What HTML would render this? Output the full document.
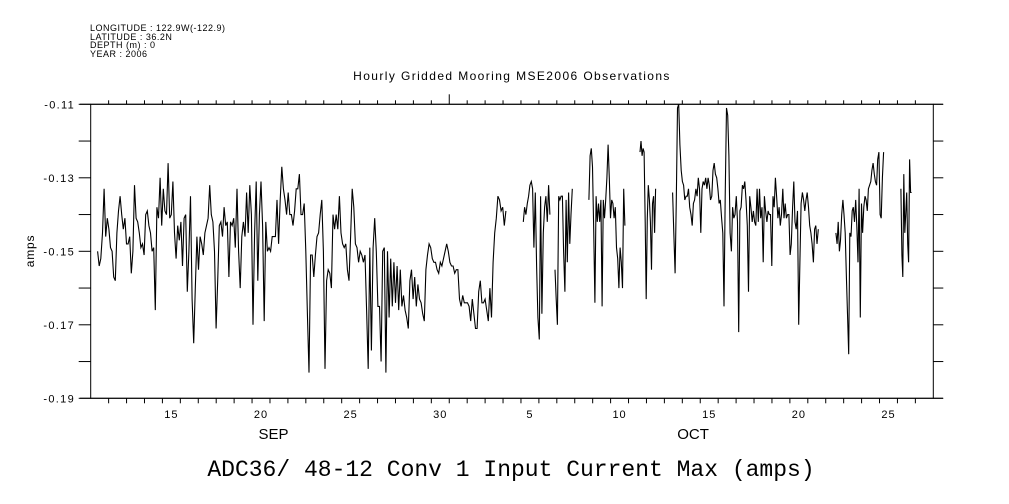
<!DOCTYPE html>
<html><head><meta charset="utf-8"><style>
html,body{margin:0;padding:0;background:#fff;}
svg{display:block;}
text{font-family:"Liberation Sans","DejaVu Sans",sans-serif;fill:#000;}
</style></head><body>
<svg id="chart" width="1009" height="504" viewBox="0 0 1009 504" xmlns="http://www.w3.org/2000/svg">
<g font-size="9" letter-spacing="0.5">
<text x="90" y="31">LONGITUDE : 122.9W(-122.9)</text>
<text x="90" y="40">LATITUDE : 36.2N</text>
<text x="90" y="48">DEPTH (m) : 0</text>
<text x="90" y="57">YEAR : 2006</text>
</g>
<text x="512" y="80" font-size="12" letter-spacing="1.4" text-anchor="middle">Hourly Gridded Mooring MSE2006 Observations</text>
<text x="511" y="476" font-size="23" text-anchor="middle" style="font-family:'Liberation Mono',monospace">ADC36/ 48-12 Conv 1 Input Current Max (amps)</text>
<text transform="translate(34,251) rotate(-90)" font-size="12" letter-spacing="0.8" text-anchor="middle">amps</text>
<g id="axes"></g>
<g id="series"></g>
</svg>
<script>
const yTicks = [-0.11,-0.12,-0.13,-0.14,-0.15,-0.16,-0.17,-0.18,-0.19];
const yTickLabels = ['-0.11','','-0.13','','-0.15','','-0.17','','-0.19'];
const dayLabels = [15,20,25,30,5,10,15,20,25];
const dayLabelIndex = [4,9,14,19,24,29,34,39,44];
const monthLabels = ['SEP','OCT'];
const monthLabelDay = [10.2,33.6];
const segStart = [9.3,579.1,621.5,667.0,735.3,779.0,997.6,1084.6];
const segEnd = [555.9,614.8,644.7,715.2,756.3,974.0,1061.4,1098.9];
const seg1 = [-.150,-.154,-.152,-.145,-.133,-.146,-.141,-.144,-.149,-.150,-.157,-.158,-.145,-.139,-.135,-.140,-.144,-.141,-.148,-.148,-.146,-.156,-.150,-.132,-.141,-.142,-.145,-.149,-.148,-.151,-.140,-.139,-.143,-.145,-.150,-.149,-.166,-.138,-.141,-.130,-.143,-.133,-.139,-.140,-.126,-.141,-.140,-.131,-.145,-.152,-.143,-.147,-.142,-.154,-.141,-.140,-.161,-.150,-.135,-.163,-.175,-.160,-.146,-.155,-.146,-.148,-.151,-.145,-.143,-.141,-.132,-.140,-.142,-.150,-.171,-.158,-.143,-.142,-.146,-.138,-.143,-.142,-.157,-.142,-.143,-.141,-.149,-.133,-.150,-.160,-.146,-.142,-.146,-.134,-.145,-.132,-.140,-.170,-.145,-.131,-.158,-.140,-.131,-.143,-.169,-.142,-.150,-.149,-.150,-.146,-.146,-.146,-.136,-.148,-.136,-.127,-.133,-.136,-.140,-.134,-.140,-.140,-.143,-.139,-.133,-.133,-.129,-.140,-.140,-.137,-.150,-.167,-.183,-.151,-.151,-.157,-.151,-.146,-.145,-.140,-.136,-.150,-.182,-.158,-.155,-.156,-.160,-.140,-.144,-.140,-.144,-.135,-.145,-.148,-.149,-.148,-.155,-.158,-.146,-.133,-.138,-.148,-.149,-.153,-.150,-.151,-.153,-.151,-.166,-.182,-.149,-.177,-.149,-.141,-.150,-.165,-.165,-.180,-.150,-.149,-.183,-.150,-.168,-.152,-.165,-.153,-.164,-.154,-.166,-.155,-.165,-.162,-.166,-.168,-.171,-.158,-.155,-.163,-.157,-.165,-.159,-.163,-.164,-.167,-.169,-.155,-.151,-.148,-.149,-.152,-.153,-.153,-.155,-.156,-.153,-.154,-.152,-.150,-.148,-.150,-.153,-.154,-.154,-.156,-.155,-.155,-.163,-.165,-.162,-.164,-.164,-.164,-.165,-.169,-.163,-.167,-.171,-.171,-.161,-.158,-.164,-.164,-.163,-.166,-.169,-.160,-.168,-.153,-.145,-.141,-.135,-.136,-.139,-.138,-.143,-.139];
const seg2 = [-.142,-.138,-.140,-.137,-.135,-.132,-.131,-.133,-.149,-.134,-.154,-.168,-.174,-.135,-.167,-.145,-.138,-.135,-.142,-.132,-.140];
const seg3 = [-.155,-.163,-.170,-.135,-.136,-.135,-.135,-.150,-.161,-.136,-.153,-.134,-.148,-.140,-.133];
const seg4 = [-.136,-.124,-.122,-.127,-.144,-.164,-.135,-.142,-.137,-.142,-.136,-.165,-.136,-.141,-.136,-.130,-.121,-.130,-.141,-.136,-.137,-.141,-.138,-.149,-.152,-.160,-.149,-.153,-.160,-.133,-.143];
const seg5 = [-.123,-.120,-.124,-.122,-.123,-.142,-.163,-.141,-.132,-.136,-.142,-.155,-.137,-.135,-.145,-.133];
const seg6 = [-.134,-.145,-.156,-.136,-.111,-.110,-.121,-.128,-.131,-.132,-.136,-.135,-.135,-.133,-.138,-.140,-.143,-.137,-.136,-.133,-.135,-.130,-.133,-.145,-.133,-.131,-.132,-.130,-.133,-.130,-.132,-.136,-.135,-.128,-.126,-.129,-.130,-.133,-.137,-.136,-.141,-.145,-.165,-.135,-.111,-.113,-.124,-.145,-.150,-.138,-.141,-.140,-.135,-.142,-.172,-.139,-.138,-.132,-.133,-.131,-.136,-.143,-.161,-.135,-.138,-.142,-.139,-.142,-.143,-.133,-.142,-.133,-.141,-.138,-.153,-.135,-.139,-.142,-.139,-.140,-.140,-.154,-.135,-.138,-.130,-.135,-.141,-.138,-.143,-.140,-.133,-.141,-.137,-.141,-.140,-.140,-.151,-.148,-.138,-.131,-.142,-.144,-.139,-.170,-.153,-.137,-.134,-.136,-.139,-.136,-.134,-.138,-.143,-.145,-.148,-.153,-.144,-.143,-.148,-.144];
const seg7 = [-.145,-.148,-.142,-.150,-.147,-.140,-.136,-.140,-.145,-.157,-.167,-.178,-.145,-.146,-.139,-.138,-.142,-.136,-.143,-.153,-.133,-.168,-.137,-.145,-.138,-.135,-.136,-.139,-.133,-.132,-.131,-.128,-.126,-.129,-.131,-.132,-.125,-.123,-.140,-.141,-.130,-.123];
const seg8 = [-.133,-.151,-.157,-.129,-.145,-.140,-.134,-.148,-.153,-.125,-.134,-.134];
const segValues = [seg1,seg2,seg3,seg4,seg5,seg6,seg7,seg8];

const L=90.7,R=933.3,T=104.3,B=398.3,H0=0,H1=1128;
function xs(h){return L+(h-H0)/(H1-H0)*(R-L);}
function ys(v){return T+(-0.11-v)/0.08*(B-T);}
const NS='http://www.w3.org/2000/svg';
const axes=document.getElementById('axes');
const series=document.getElementById('series');
function mk(tag,attrs,parent){const e=document.createElementNS(NS,tag);for(const k in attrs)e.setAttribute(k,attrs[k]);parent.appendChild(e);return e;}

let e;
e=mk('rect',{x:L,y:T,width:R-L,height:B-T,fill:'none',stroke:'#000','stroke-width':1},axes);


e=mk('line',{x1:80,x2:943,y1:T,y2:T,stroke:'#000'},axes);


e=mk('line',{x1:80,x2:943,y1:B,y2:B,stroke:'#000'},axes);



yTicks.forEach((v,i)=>{
  const y=ys(v);
  let t=mk('line',{x1:L-12,x2:L,y1:y,y2:y,stroke:'#000'},axes);
  
  
  t=mk('line',{x1:R,x2:R+10,y1:y,y2:y,stroke:'#000'},axes);
  
  
  if(yTickLabels[i]){
    const tx=mk('text',{x:75,y:y+4,'font-size':11,'letter-spacing':1.3,'text-anchor':'end'},axes);
    tx.textContent=yTickLabels[i];
    
    
  }
});
for(let d=1;d<47;d++){
  const x=xs(d*24);
  let t=mk('line',{x1:x,x2:x,y1:T-(d===20?10:4),y2:T,stroke:'#000'},axes);
  
  
  t=mk('line',{x1:x,x2:x,y1:B,y2:B+5,stroke:'#000'},axes);
  
  
}
dayLabels.forEach((lab,i)=>{
  const tx=mk('text',{x:xs((dayLabelIndex[i]+0.5)*24),y:418,'font-size':11,'letter-spacing':1,'text-anchor':'middle'},axes);
  tx.textContent=lab;
  
  
});
monthLabels.forEach((lab,i)=>{
  const tx=mk('text',{x:xs(monthLabelDay[i]*24),y:439,'font-size':15,'text-anchor':'middle'},axes);
  tx.textContent=lab;
  
  
});

segValues.forEach((vals,s)=>{
  const n=vals.length, dt=(segEnd[s]-segStart[s])/(n-1);
  let d='';
  vals.forEach((v,i)=>{d+=(i?'L':'M')+xs(segStart[s]+i*dt).toFixed(1)+' '+ys(v).toFixed(1);});
  const p=mk('path',{d:d,fill:'none',stroke:'#000','stroke-width':1.1,'stroke-linejoin':'miter'},series);
  
  
});
</script>
</body></html>
